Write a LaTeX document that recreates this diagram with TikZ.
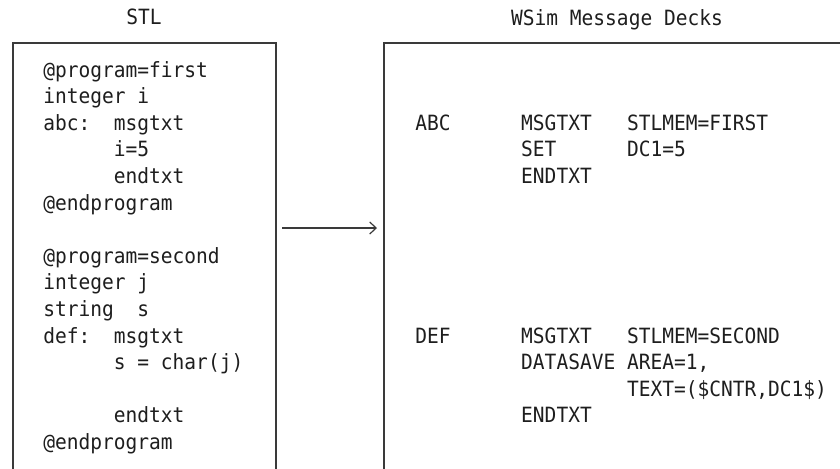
\documentclass[tikz,border=0pt]{standalone}
\usepackage{fontspec}
\usetikzlibrary{arrows.meta,fit}
\newfontfamily\codefont[FakeStretch=0.93]{DejaVu Sans Mono}
\definecolor{ink}{HTML}{1E1E1E}
\definecolor{rule}{HTML}{3A3A3A}
\tikzset{
  code/.style={anchor=base west, inner sep=0pt, text=ink,
    font=\codefont\fontsize{10.5}{13.3}\selectfont},
  head/.style={anchor=base, inner sep=0pt, text=ink,
    font=\codefont\fontsize{10.5}{13.3}\selectfont},
  panel/.style={draw=rule, line width=0.9pt, inner sep=0pt},
  flow/.style={draw=rule, line width=0.6pt,
    -{Straight Barb[length=3.2pt,width=6pt,line width=0.6pt]}}
}
\begin{document}
\begin{tikzpicture}[x=0.5pt,y=-0.5pt]
  \clip (0,0) rectangle (840,468);
  \fill[white] (0,0) rectangle (840,468);

  % column headings
  \node[head] (hstl) at (144,24) {STL};
  \node[head] (hwsim) at (617,25) {WSim Message Decks};

  % the two panels run off the lower edge
  \node[panel, fit={(13,43) (276,520)}] (stl) {};
  \node[panel, fit={(384,43) (880,520)}] (wsim) {};

  % STL source
  \node[code] (s1)  at (43,77)    {@program=first};
  \node[code] (s2)  at (43,103.6) {integer i};
  \node[code] (s3)  at (43,130.2) {abc:~~msgtxt};
  \node[code] (s4)  at (43,156.8) {~~~~~~i=5};
  \node[code] (s5)  at (43,183.4) {~~~~~~endtxt};
  \node[code] (s6)  at (43,210)   {@endprogram};
  \node[code] (s8)  at (43,263.2) {@program=second};
  \node[code] (s9)  at (43,289.8) {integer j};
  \node[code] (s10) at (43,316.4) {string~~s};
  \node[code] (s11) at (43,343)   {def:~~msgtxt};
  \node[code] (s12) at (43,369.6) {~~~~~~s = char(j)};
  \node[code] (s14) at (43,422.8) {~~~~~~endtxt};
  \node[code] (s15) at (43,449.4) {@endprogram};

  % generated message decks
  \node[code] (w3)  at (415,130.2) {ABC~~~~~~MSGTXT~~~STLMEM=FIRST};
  \node[code] (w4)  at (415,156.8) {~~~~~~~~~SET~~~~~~DC1=5};
  \node[code] (w5)  at (415,183.4) {~~~~~~~~~ENDTXT};
  \node[code] (w11) at (415,343)   {DEF~~~~~~MSGTXT~~~STLMEM=SECOND};
  \node[code] (w12) at (415,369.6) {~~~~~~~~~DATASAVE AREA=1,};
  \node[code] (w13) at (415,396.2) {~~~~~~~~~~~~~~~~~~TEXT=(\$CNTR,DC1\$)};
  \node[code] (w14) at (415,422.8) {~~~~~~~~~ENDTXT};

  % conversion arrow
  \coordinate (from) at (282,228);
  \coordinate (to) at (377,228);
  \draw[flow] (from) -- (to);
\end{tikzpicture}
\end{document}
